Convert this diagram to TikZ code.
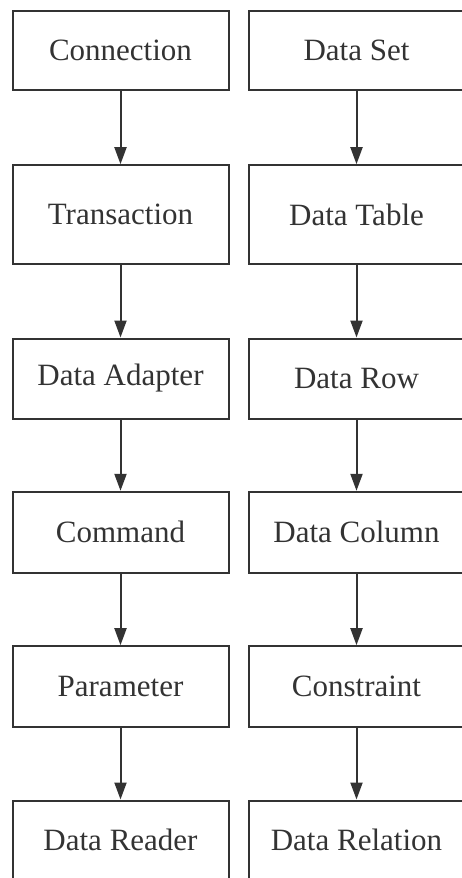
\documentclass[tikz,border=0pt]{standalone}
\usepackage{fontspec}
\setmainfont{Liberation Serif}
\usetikzlibrary{arrows.meta}
\definecolor{ink}{HTML}{333333}
\begin{document}
\begin{tikzpicture}[x=1pt,y=1pt,
  box/.style={draw=ink, line width=2pt, text=ink, minimum width=216pt, inner sep=0pt,
              font=\fontsize{31}{36}\selectfont, anchor=center},
  link/.style={draw=ink, line width=2pt, -{Triangle[length=17pt,width=12pt]}}]
\useasboundingbox (0,0) rectangle (462,-878);
\clip (0,0) rectangle (462,-878);
% left column
\node[box, minimum height=79pt] (c1) at (120.5,-50) {Connection};
\node[box, minimum height=99pt] (c2) at (120.5,-214.7) {Transaction};
\node[box, minimum height=80pt] (c3) at (120.5,-378.5) {Data Adapter};
\node[box, minimum height=81pt] (c4) at (120.5,-532.3) {Command};
\node[box, minimum height=81pt] (c5) at (120.5,-686.7) {Parameter};
\node[box, minimum height=79pt] (c6) at (120.5,-840) {Data Reader};
% right column
\node[box, minimum height=79pt] (d1) at (356.5,-50) {Data Set};
\node[box, minimum height=99pt] (d2) at (356.5,-214.7) {Data Table};
\node[box, minimum height=80pt] (d3) at (356.5,-378.5) {Data Row};
\node[box, minimum height=81pt] (d4) at (356.5,-532.3) {Data Column};
\node[box, minimum height=81pt] (d5) at (356.5,-686.7) {Constraint};
\node[box, minimum height=79pt] (d6) at (356.5,-840) {Data Relation};
% connectors
\foreach \a/\b in {c1/c2,c2/c3,c3/c4,c4/c5,c5/c6,d1/d2,d2/d3,d3/d4,d4/d5,d5/d6}
  \draw[link] (\a.south) -- (\b.north);
\end{tikzpicture}
\end{document}
